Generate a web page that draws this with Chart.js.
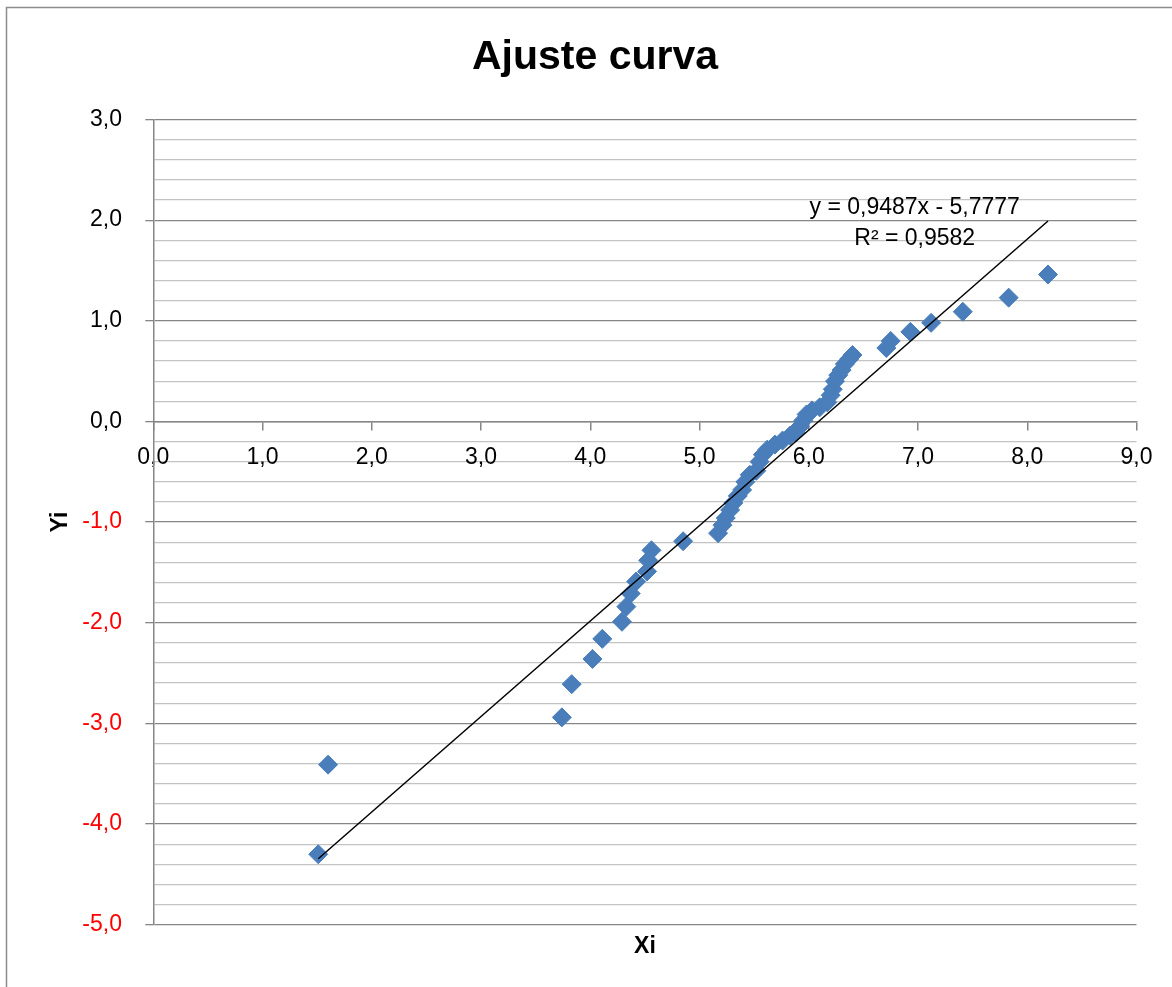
<!DOCTYPE html>
<html>
<head>
<meta charset="utf-8">
<title>Ajuste curva</title>
<script src="https://cdn.jsdelivr.net/npm/chart.js@4.4.1/dist/chart.umd.min.js"></script>
<style>
  html, body { margin: 0; padding: 0; background: #fff; overflow: hidden; }
  canvas { display: block; }
</style>
</head>
<body>
<canvas id="chart" width="1172" height="987"></canvas>
<script>
// Observed pairs (Xi, Yi)
const xi = [1.51, 1.60, 3.74, 3.83, 4.02, 4.11, 4.29, 4.33, 4.37, 4.42, 4.52, 4.53, 4.56, 4.85,
            5.17, 5.21, 5.24, 5.28, 5.31, 5.35, 5.39, 5.42, 5.46, 5.52, 5.55, 5.58, 5.62, 5.69,
            5.76, 5.83, 5.88, 5.92, 5.95, 5.98, 6.03, 6.10, 6.17, 6.20, 6.22, 6.24, 6.27, 6.30,
            6.33, 6.37, 6.40, 6.71, 6.75, 6.93, 7.12, 7.41, 7.83, 8.19];
const yi = [-4.30, -3.41, -2.94, -2.61, -2.36, -2.16, -1.99, -1.84, -1.71, -1.59, -1.49, -1.38, -1.28, -1.19,
            -1.11, -1.03, -0.96, -0.88, -0.81, -0.74, -0.68, -0.60, -0.53, -0.49, -0.40, -0.33, -0.28, -0.23,
            -0.19, -0.14, -0.11, -0.05, 0.01, 0.07, 0.11, 0.14, 0.19, 0.26, 0.32, 0.40, 0.46, 0.51,
            0.57, 0.62, 0.66, 0.73, 0.80, 0.89, 0.98, 1.09, 1.23, 1.46];

// Linear trend line coefficients
const trendSlope = 0.9487;
const trendIntercept = -5.7777;
const trendR2 = 0.9582;

// Axis ranges
const xRange = [0, 9];
const yRange = [-5, 3];

const FONT = '"Liberation Sans", Arial, sans-serif';
const comma = (v, d) => v.toFixed(d).replace('.', ',');
const isMajor = v => Math.abs(v - Math.round(v)) < 1e-9;

const points = xi.map((x, i) => ({ x, y: yi[i] }));
const xMin = Math.min(...xi), xMax = Math.max(...xi);
const trend = [xMin, xMax].map(x => ({ x, y: trendSlope * x + trendIntercept }));

// White background and the outer chart frame
const frame = {
  id: 'frame',
  beforeDraw(chart) {
    const c = chart.ctx;
    c.save();
    c.fillStyle = '#fff';
    c.fillRect(0, 0, chart.width, chart.height);
    c.strokeStyle = '#8c8c8c';
    c.lineWidth = 1.5;
    c.strokeRect(6.5, 7.5, chart.width + 20, chart.height + 20);
    c.restore();
  }
};

// Equation and R² of the trend line
const trendLabel = {
  id: 'trendLabel',
  afterDatasetsDraw(chart) {
    const { ctx, scales: { x, y } } = chart;
    const cx = x.getPixelForValue(6.97);
    ctx.save();
    ctx.font = '23px ' + FONT;
    ctx.fillStyle = '#000';
    ctx.textAlign = 'center';
    ctx.textBaseline = 'middle';
    const sign = trendIntercept < 0 ? '-' : '+';
    ctx.fillText(`y = ${comma(trendSlope, 4)}x ${sign} ${comma(Math.abs(trendIntercept), 4)}`, cx, y.getPixelForValue(2.12));
    ctx.fillText(`R² = ${comma(trendR2, 4)}`, cx, y.getPixelForValue(1.82));
    ctx.restore();
  }
};

new Chart(document.getElementById('chart'), {
  type: 'scatter',
  data: {
    datasets: [
      {
        label: 'Lineal',
        type: 'line',
        data: trend,
        borderColor: '#000',
        borderWidth: 1.5,
        pointRadius: 0,
        fill: false,
        order: 0
      },
      {
        label: 'Yi',
        data: points,
        pointStyle: 'rectRot',
        pointRadius: 9.5,
        backgroundColor: '#4a7ebb',
        borderColor: '#4a7ebb',
        borderWidth: 1,
        order: 1
      }
    ]
  },
  options: {
    responsive: false,
    devicePixelRatio: 1,
    animation: false,
    layout: { padding: { left: 18, right: 0, top: 0, bottom: 0 } },
    plugins: {
      legend: { display: false },
      tooltip: { enabled: false },
      title: {
        display: true,
        text: 'Ajuste curva',
        color: '#000',
        font: { family: FONT, size: 41, weight: 'bold', lineHeight: 1.2 },
        padding: { top: 33.5, bottom: 36.8 }
      }
    },
    scales: {
      x: {
        type: 'linear',
        position: { y: 0 },
        min: xRange[0],
        max: xRange[1],
        afterFit(s) { s.height = 0; },
        ticks: {
          stepSize: 1, maxTicksLimit: 20, autoSkip: false, maxRotation: 0,
          color: '#000', font: { family: FONT, size: 23, lineHeight: 1.3 }, padding: 13,
          callback: v => comma(v, 1)
        },
        grid: { drawOnChartArea: false, drawTicks: true, tickLength: 8, color: '#868686', lineWidth: 1.5 },
        border: { display: true, color: '#868686', width: 1.5 }
      },
      x2: {
        type: 'linear',
        position: 'bottom',
        min: 0, max: 1,
        afterFit(s) { s.height = 62.3; },
        ticks: { display: false },
        grid: { display: false, drawTicks: false },
        border: { display: false },
        title: {
          display: true, text: 'Xi', color: '#000',
          font: { family: FONT, size: 23, weight: 'bold' },
          padding: { top: 0, bottom: 27 }
        }
      },
      y: {
        type: 'linear',
        position: 'left',
        min: yRange[0],
        max: yRange[1],
        afterFit(s) { s.width = 135.3; },
        ticks: {
          stepSize: 0.2, maxTicksLimit: 100, autoSkip: false,
          font: { family: FONT, size: 23 }, padding: 23.3,
          color: c => (c.tick && c.tick.value < 0) ? '#ff0000' : '#000',
          callback: v => isMajor(v) ? comma(v, 1) : ''
        },
        grid: {
          color: c => (c.tick && isMajor(c.tick.value)) ? '#868686' : '#c3c3c3',
          lineWidth: 1.3,
          tickLength: 8,
          tickColor: c => (c.tick && isMajor(c.tick.value)) ? '#868686' : 'rgba(0,0,0,0)'
        },
        border: { color: '#868686', width: 1.5 },
        title: {
          display: true, text: 'Yi', color: '#000',
          font: { family: FONT, size: 23, weight: 'bold' },
          padding: { top: 29, bottom: 0 }
        }
      },
      yR: {
        type: 'linear',
        position: 'right',
        afterFit(s) { s.width = 35.5; },
        ticks: { display: false },
        grid: { display: false, drawTicks: false },
        border: { display: false }
      }
    }
  },
  plugins: [frame, trendLabel]
});
</script>
</body>
</html>
